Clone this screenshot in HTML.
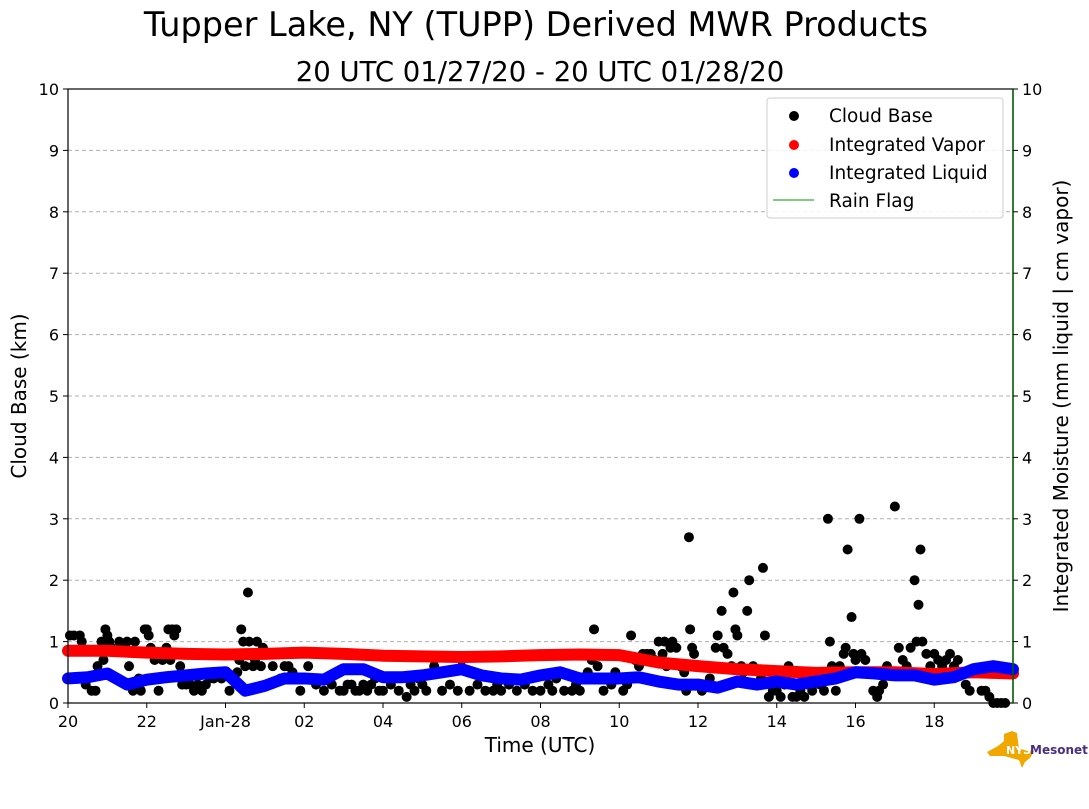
<!DOCTYPE html>
<html><head><meta charset="utf-8"><style>
body{margin:0;background:#fff;}
svg text{font-family:"DejaVu Sans","Liberation Sans",sans-serif;fill:#000;}
</style></head><body>
<svg id="chart" width="1089" height="804" xmlns="http://www.w3.org/2000/svg">
<text x="536" y="36" font-size="33.5" text-anchor="middle">Tupper Lake, NY (TUPP) Derived MWR Products</text>
<text x="540" y="81" font-size="27.5" text-anchor="middle">20 UTC 01/27/20 - 20 UTC 01/28/20</text>
<g id="grid"></g>
<g id="marks"></g>
<rect x="68" y="89" width="945" height="614" fill="none" stroke="#000" stroke-width="1.2"/>
<line x1="1013" y1="89" x2="1013" y2="703" stroke="#006400" stroke-width="1.5"/>
<g id="axes"></g>
<text x="540" y="752" font-size="20" text-anchor="middle">Time (UTC)</text>
<text transform="translate(26,396) rotate(-90)" font-size="20" text-anchor="middle">Cloud Base (km)</text>
<text transform="translate(1068,396) rotate(-90)" font-size="20" text-anchor="middle">Integrated Moisture (mm liquid | cm vapor)</text>
<g>
<rect x="767" y="98" width="236" height="120" rx="3" fill="#fff" fill-opacity="0.85" stroke="#ccc"/>
<circle cx="794" cy="116" r="5" fill="#000"/><text x="829" y="122" font-size="18.5">Cloud Base</text>
<circle cx="794" cy="145" r="5" fill="#f00"/><text x="829" y="151" font-size="18.5">Integrated Vapor</text>
<circle cx="794" cy="173" r="5" fill="#00f"/><text x="829" y="179" font-size="18.5">Integrated Liquid</text>
<line x1="773" y1="200" x2="814" y2="200" stroke="#5cb85c" stroke-width="1.5"/><text x="829" y="207" font-size="18.5">Rain Flag</text>
</g>
<g>
<path d="M987 752 L998 746 L1004 741 L1004 734 L1012 731 L1017 733 L1019 749 L1034 751 L1030 758 L1025 762 L1022 768 L1019 760 L1004 756 L990 756 Z" fill="#f0a800"/>
<text x="1006" y="754" font-size="11" font-weight="bold" style="fill:#fff">NYS</text>
<text x="1030" y="754" font-size="12" font-weight="bold" style="fill:#4b2e83">Mesonet</text>
</g>
</svg>
<script>
const xTickLabels=["20","22","Jan-28","02","04","06","08","10","12","14","16","18"];
const yTicks=[0,1,2,3,4,5,6,7,8,9,10];
const vaporHours=[0,1,2,3,4,5,6,7,8,9,10,11,12,13,14,15,16,17,18,19,20,21,22,23,24];
const vaporVals=[0.85,0.85,0.82,0.80,0.79,0.80,0.82,0.80,0.77,0.76,0.75,0.76,0.78,0.79,0.78,0.66,0.60,0.55,0.52,0.49,0.50,0.50,0.47,0.50,0.48];
const liquidHours=[0,0.5,1,1.5,2,2.5,3,3.5,4,4.5,5,5.5,6,6.5,7,7.5,8,8.5,9,9.5,10,10.5,11,11.5,12,12.5,13,13.5,14,14.5,15,15.5,16,16.5,17,17.5,18,18.5,19,19.5,20,20.5,21,21.5,22,22.5,23,23.5,24];
const liquidVals=[0.40,0.42,0.48,0.30,0.38,0.42,0.45,0.48,0.50,0.20,0.28,0.40,0.40,0.38,0.55,0.55,0.42,0.42,0.45,0.50,0.55,0.45,0.40,0.38,0.45,0.50,0.40,0.40,0.40,0.42,0.35,0.30,0.30,0.25,0.35,0.30,0.35,0.30,0.35,0.40,0.50,0.48,0.45,0.45,0.38,0.42,0.55,0.60,0.55];
const cloudHours=[
0.05,0.15,0.3,0.35,0.45,0.5,0.6,0.7,0.75,0.85,
0.9,0.95,1.0,1.05,1.1,1.2,1.3,1.4,1.5,1.55,
1.6,1.65,1.7,1.8,1.85,1.95,2.0,2.05,2.1,2.2,
2.3,2.4,2.5,2.55,2.6,2.65,2.7,2.75,2.85,2.9,
3.0,3.1,3.2,3.3,3.4,3.5,3.6,3.7,3.8,3.9,
4.0,4.1,4.2,4.3,4.35,4.4,4.45,4.5,4.57,4.6,
4.7,4.75,4.8,4.9,4.95,5.0,5.2,5.4,5.5,5.6,
5.7,5.8,5.9,6.1,6.3,6.5,6.7,6.9,7.0,7.1,
7.2,7.3,7.4,7.5,7.6,7.7,7.8,7.9,8.0,8.2,
8.4,8.6,8.7,8.8,8.9,9.0,9.1,9.3,9.5,9.7,
9.9,10.0,10.2,10.4,10.6,10.8,10.9,11.0,11.2,11.4,
11.6,11.8,12.0,12.2,12.3,12.4,12.6,12.8,12.9,13.0,
13.2,13.3,13.36,13.45,13.6,13.8,13.9,14.0,14.1,14.2,
14.3,14.4,14.5,14.6,14.7,14.8,14.9,15.0,15.1,15.15,
15.2,15.3,15.35,15.45,15.55,15.65,15.7,15.77,15.8,15.85,
15.9,16.0,16.1,16.3,16.45,16.5,16.6,16.65,16.75,16.85,
16.9,16.95,17.0,17.1,17.15,17.25,17.3,17.4,17.5,17.6,
17.65,17.7,17.8,17.9,18.0,18.1,18.2,18.3,18.4,18.5,
18.6,18.7,18.8,18.9,19.0,19.1,19.2,19.3,19.35,19.4,
19.5,19.6,19.7,19.75,19.8,19.9,19.95,20.0,20.1,20.15,
20.25,20.35,20.45,20.55,20.6,20.7,20.8,21.0,21.1,21.2,
21.3,21.4,21.5,21.55,21.6,21.65,21.7,21.8,21.9,22.0,
22.1,22.2,22.3,22.4,22.5,22.6,22.7,22.8,22.9,23.0,
23.2,23.3,23.4,23.5,23.6,23.7,23.8];
const cloudVals=[
1.1,1.1,1.1,1.0,0.3,0.4,0.2,0.2,0.6,1.0,
0.7,1.2,1.1,1.0,0.9,0.4,1.0,0.9,1.0,0.6,
0.3,0.2,1.0,0.4,0.2,1.2,1.2,1.1,0.9,0.7,
0.2,0.7,0.9,1.2,0.7,1.2,1.1,1.2,0.6,0.3,
0.3,0.3,0.2,0.3,0.2,0.3,0.4,0.4,0.5,0.4,
0.5,0.2,0.4,0.5,0.7,1.2,1.0,0.6,1.8,1.0,
0.6,0.7,1.0,0.6,0.9,0.8,0.6,0.4,0.6,0.6,
0.5,0.4,0.2,0.6,0.3,0.2,0.3,0.2,0.2,0.3,
0.3,0.2,0.2,0.3,0.2,0.3,0.4,0.2,0.2,0.3,
0.2,0.1,0.3,0.2,0.4,0.3,0.2,0.6,0.2,0.3,
0.2,0.7,0.2,0.3,0.2,0.2,0.3,0.2,0.3,0.2,
0.3,0.2,0.2,0.3,0.2,0.4,0.2,0.2,0.3,0.2,
0.5,0.7,1.2,0.6,0.2,0.3,0.5,0.4,0.2,0.3,
1.1,0.7,0.6,0.8,0.8,0.8,0.7,1.0,0.8,1.0,
0.6,0.9,1.0,0.9,0.6,0.5,0.2,2.7,1.2,0.9,
0.8,0.3,0.2,0.4,0.9,1.1,1.5,0.9,0.8,0.6,
1.8,1.2,1.1,0.6,0.5,1.5,2.0,0.6,0.3,0.4,
2.2,1.1,0.1,0.2,0.2,0.1,0.3,0.6,0.1,0.1,
0.2,0.1,0.3,0.2,0.4,0.3,0.2,3.0,1.0,0.6,
0.2,0.6,0.8,0.9,2.5,1.4,0.8,0.7,3.0,0.8,
0.7,0.5,0.2,0.1,0.2,0.3,0.6,3.2,0.9,0.7,
0.6,0.9,2.0,1.0,1.6,2.5,1.0,0.8,0.6,0.8,
0.7,0.6,0.7,0.8,0.6,0.7,0.5,0.3,0.2,0.5,
0.2,0.2,0.1,0.0,0.0,0.0,0.0];
const X0=68,X1=1013,Y0=703,Y1=89;
function xs(h){return X0+(h/24)*(X1-X0);}
function ys(v){return Y0-(v/10)*(Y0-Y1);}
const NS="http://www.w3.org/2000/svg";
function mk(tag,attrs,parent){const e=document.createElementNS(NS,tag);for(const k in attrs)e.setAttribute(k,attrs[k]);parent.appendChild(e);return e;}
const grid=document.getElementById('grid'),marks=document.getElementById('marks'),axes=document.getElementById('axes');
yTicks.forEach(t=>{
  if(t>0&&t<10){const g=mk('line',{x1:X0,x2:X1,y1:ys(t),y2:ys(t),stroke:'#b0b0b0','stroke-dasharray':'4,3'},grid);
  
  }
  const l=mk('text',{x:X0-9,y:ys(t)+6,'font-size':16,'text-anchor':'end'},axes);l.textContent=t;
  
  
  const r=mk('text',{x:X1+9,y:ys(t)+6,'font-size':16},axes);r.textContent=t;
  
  
  mk('line',{x1:X0-5,x2:X0,y1:ys(t),y2:ys(t),stroke:'#000'},axes);
  mk('line',{x1:X1,x2:X1+5,y1:ys(t),y2:ys(t),stroke:'#000'},axes);
});
xTickLabels.forEach((s,i)=>{
  const x=xs(i*2);
  mk('line',{x1:x,x2:x,y1:Y0,y2:Y0+5,stroke:'#000'},axes);
  const t=mk('text',{x:x,y:Y0+24,'font-size':16,'text-anchor':'middle'},axes);t.textContent=s;
  
  
});
function dots(hs,vs,color,r,name){
  hs.forEach((h,i)=>{const c=mk('circle',{cx:xs(h),cy:ys(vs[i]),r:r,fill:color},marks);
  
  });
}
function thick(hs,vs,color,name){
  const p=mk('polyline',{points:hs.map((h,i)=>xs(h)+','+ys(vs[i])).join(' '),fill:'none',stroke:color,'stroke-width':12,'stroke-linejoin':'round','stroke-linecap':'round'},marks);
  
  
}
dots(cloudHours,cloudVals,'#000',5,'cloud-base-point');
thick(vaporHours,vaporVals,'#f00','integrated-vapor-series');
thick(liquidHours,liquidVals,'#00f','integrated-liquid-series');
</script>
</body></html>
